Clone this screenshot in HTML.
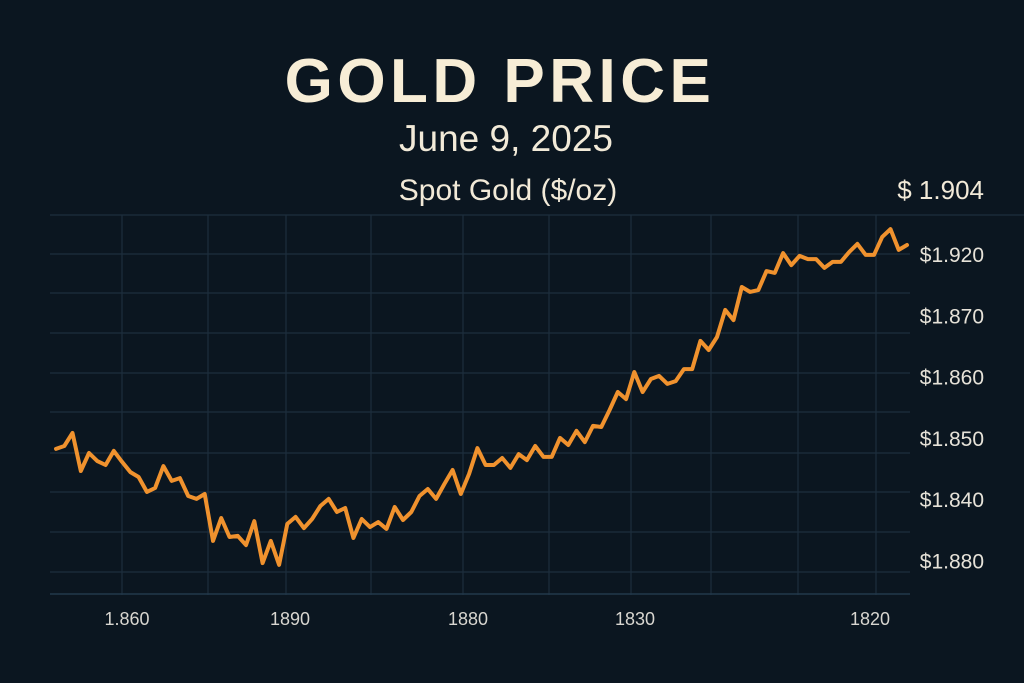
<!DOCTYPE html>
<html><head><meta charset="utf-8"><style>
html,body{margin:0;padding:0;background:#0b1620;}
svg{display:block}
text{font-family:"Liberation Sans",sans-serif;}
</style></head><body>
<svg id="chart" width="1024" height="683" viewBox="0 0 1024 683" xmlns="http://www.w3.org/2000/svg">
<rect width="1024" height="683" fill="#0b1620"/>
<text x="500" y="102" text-anchor="middle" font-size="62" font-weight="bold" fill="#f7edd6" letter-spacing="4.5">GOLD PRICE</text>
<text x="506" y="151" text-anchor="middle" font-size="37" fill="#f2ead8">June 9, 2025</text>
<text x="508" y="200" text-anchor="middle" font-size="30" fill="#f2ead8">Spot Gold ($/oz)</text>
<text x="984" y="199" text-anchor="end" font-size="26" fill="#f2ead8">$ 1.904</text>
<g id="grid"></g>
<g id="xlabels"></g>
<g id="ylabels"></g>
<path id="line" fill="none" stroke="#f0922e" stroke-width="4" stroke-linejoin="round" stroke-linecap="round"/>
</svg>
<script>
const prices = [1850.3,1851.4,1856.4,1841.8,1848.7,1845.6,1844.1,1849.5,1845.3,1841.4,1839.5,1833.8,1835.3,1843.7,1838.0,1839.1,1832.2,1831.1,1833.0,1815.0,1823.8,1816.5,1816.9,1813.4,1822.6,1806.5,1815.0,1805.8,1821.5,1824.2,1819.9,1823.4,1828.4,1831.1,1826.1,1827.6,1816.1,1823.4,1820.3,1822.2,1819.6,1828.0,1823.0,1826.1,1832.2,1834.9,1831.1,1836.8,1842.2,1833.0,1840.7,1850.6,1844.1,1844.1,1846.8,1843.0,1848.3,1846.0,1851.4,1847.2,1847.2,1854.5,1851.8,1857.2,1852.9,1859.1,1858.7,1865.2,1872.1,1869.4,1879.8,1872.1,1877.1,1878.3,1875.2,1876.3,1880.9,1880.9,1891.7,1888.2,1893.2,1903.6,1899.7,1912.4,1910.5,1911.2,1918.5,1917.8,1925.4,1920.8,1924.3,1923.1,1923.1,1919.7,1922.0,1922.0,1925.8,1928.9,1924.7,1924.7,1931.6,1934.6,1926.6,1928.5];
const yTickLabels = ["$1.920","$1.870","$1.860","$1.850","$1.840","$1.880"];
const xTickLabels = ["1.860","1890","1880","1830","1820"];
const NS="http://www.w3.org/2000/svg";
const X0=56,X1=907,Y0=580,PMIN=1800,PMAX=1940,YTOP=215;
const xs=i=>X0+(X1-X0)*i/(prices.length-1);
const ys=p=>Y0-(p-PMIN)*(Y0-YTOP)/(PMAX-PMIN);
function mk(tag,attrs,parent){const e=document.createElementNS(NS,tag);for(const k in attrs)e.setAttribute(k,attrs[k]);parent.appendChild(e);return e;}
const grid=document.getElementById('grid');
const hy=[215,254,293,333,373,412,453,492,532,572];
hy.forEach((y,i)=>{const l=mk('line',{x1:50,x2:i===0?1024:910,y1:y,y2:y,stroke:'#1d2f3d','stroke-width':1.2},grid);

});
const vx=[122,208,286,371,463,549,631,711,798,876];
vx.forEach(x=>{const l=mk('line',{x1:x,x2:x,y1:215,y2:595,stroke:'#1d2f3d','stroke-width':1.2},grid);

});
const ax=mk('line',{x1:50,x2:910,y1:594,y2:594,stroke:'#22384a','stroke-width':1.5},grid);


const ylab=document.getElementById('ylabels');
yTickLabels.forEach((t,i)=>{const e=mk('text',{x:984,y:262+i*61.3,'text-anchor':'end','font-size':21,fill:'#e6e2d8'},ylab);e.textContent=t;

});
const xl=document.getElementById('xlabels');
const xlx=[127,290,468,635,870];
xTickLabels.forEach((t,i)=>{const e=mk('text',{x:xlx[i],y:625,'text-anchor':'middle','font-size':18,fill:'#d8d6d0'},xl);e.textContent=t;

});
document.getElementById('line').setAttribute('d',prices.map((p,i)=>(i?'L':'M')+xs(i).toFixed(1)+' '+ys(p).toFixed(1)).join(' '));
</script>
</body></html>
